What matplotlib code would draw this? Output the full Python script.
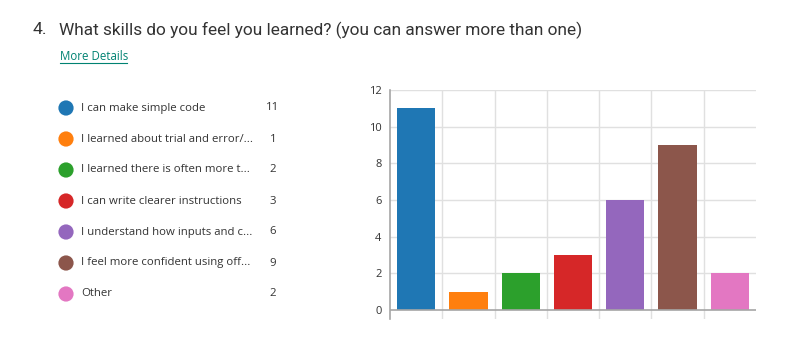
import matplotlib
matplotlib.use("Agg")
import matplotlib.pyplot as plt

categories = [
    "I can make simple code",
    "I learned about trial and error/...",
    "I learned there is often more t...",
    "I can write clearer instructions",
    "I understand how inputs and c...",
    "I feel more confident using off...",
    "Other",
]
counts = [11, 1, 2, 3, 6, 9, 2]
colors = ["#1f77b4", "#ff7f0e", "#2ca02c", "#d62728", "#9467bd", "#8c564b", "#e377c2"]
yticks = [0, 2, 4, 6, 8, 10, 12]
title_num = "4."
title = "What skills do you feel you learned? (you can answer more than one)"
link = "More Details"

plt.rcParams['font.family'] = ['Open Sans', 'DejaVu Sans']

W, H = 800, 345
fig = plt.figure(figsize=(W / 100, H / 100), dpi=100)
fig.patch.set_facecolor("white")

ov = fig.add_axes([0, 0, 1, 1])
ov.set_xlim(0, W)
ov.set_ylim(H, 0)
ov.axis("off")

tfont = ['Roboto', 'DejaVu Sans']
ov.text(33, 30, title_num, fontsize=12.6, color="#333333", va="center", ha="left", family=tfont)
ov.text(59, 30, title, fontsize=12.4, color="#333333", va="center", ha="left", family=tfont)
ov.text(60, 57, link, fontsize=8.3, color="#008272", va="center", ha="left")
ov.plot([60, 127], [63, 63], color="#008272", lw=0.8)

for i, (lab, c, col) in enumerate(zip(categories, counts, colors)):
    y = 108 + 31 * i
    ov.scatter([66], [y], s=120, color=col, edgecolors="none")
    ov.text(81, y, lab, fontsize=8.2, color="#333333", va="center", ha="left")
    ov.text(273, y, str(c), fontsize=8.2, color="#333333", va="center", ha="center")

left, right = 390, 756
top, bottom = 90, 319
ax = fig.add_axes([left / W, 1 - bottom / H, (right - left) / W, (bottom - top) / H])
n = len(counts)
x = list(range(n))
ax.bar(x, counts, width=0.73, color=colors, zorder=3)
ax.set_xlim(-0.5, n - 0.5)
ax.set_ylim(-0.5, 12)
ax.set_yticks(yticks)
ax.set_xticks([])
for yy in yticks[1:]:
    ax.axhline(yy, color="#e0e0e0", lw=1, zorder=1)
for b in range(1, n):
    ax.axvline(b - 0.5, color="#e0e0e0", lw=1, zorder=1)
ax.axhline(0, color="#a6a6a6", lw=1.2, zorder=4)
for s in ["top", "right", "bottom"]:
    ax.spines[s].set_visible(False)
ax.spines["left"].set_color("#a6a6a6")
ax.spines["left"].set_linewidth(1.2)
ax.tick_params(axis="y", length=0, labelsize=8, labelcolor="#333333", pad=6)
ax.set_facecolor("none")

fig.savefig("out.png", dpi=100)
